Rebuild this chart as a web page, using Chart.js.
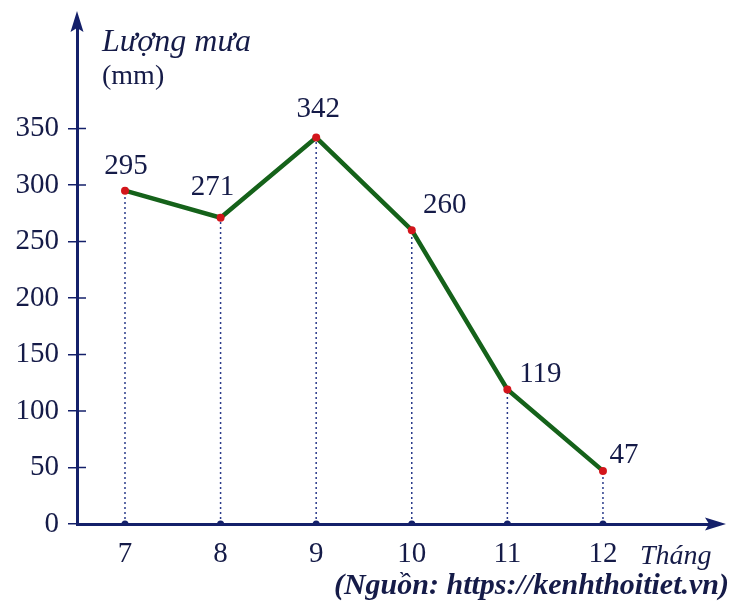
<!DOCTYPE html>
<html>
<head>
<meta charset="utf-8">
<script src="https://cdn.jsdelivr.net/npm/chart.js@4"></script>
<style>
  html, body { margin: 0; padding: 0; background: #ffffff; }
  #wrap { width: 731px; height: 606px; }
</style>
</head>
<body>
<div id="wrap"><canvas id="c" width="731" height="606"></canvas></div>
<script>
// ---- data ----
const months = [7, 8, 9, 10, 11, 12];
const rainfall = [295, 271, 342, 260, 119, 47];
const yTickValues = [0, 50, 100, 150, 200, 250, 300, 350];
const yTitleLines = ['Lượng mưa', '(mm)'];
const xTitle = 'Tháng';
const sourceText = '(Nguồn: https://kenhthoitiet.vn)';

// ---- styles ----
const NAVY = '#14206a';
const TEXT = '#151b48';
const GREEN = '#15621a';
const RED = '#d3151b';
const SERIF = '"Liberation Serif", "Times New Roman", serif';
// label offsets (px) relative to each point
const labelDX = [1, -8, 2, 33, 33, 21];
const labelDY = [-24, -30, -28, -25, -15, -15];

const mainData = months.map((m, i) => ({ x: m, y: rainfall[i] }));
const dropSets = months.map((m, i) => ({
  type: 'line',
  data: [{ x: m, y: 0 }, { x: m, y: rainfall[i] }],
  borderColor: '#2a3a8a',
  borderWidth: 1.5,
  borderDash: [2, 3],
  pointRadius: [3.5, 0],
  pointBackgroundColor: NAVY,
  pointBorderWidth: 0,
  fill: false
}));

const decorPlugin = {
  id: 'decor',
  afterDraw(chart) {
    const ctx = chart.ctx;
    const ca = chart.chartArea;
    const ys = chart.scales.y;
    const ax = ca.left, ay = ca.bottom;
    ctx.save();
    // inner halves of y tick marks
    ctx.strokeStyle = NAVY;
    ctx.lineWidth = 1.5;
    yTickValues.forEach(v => {
      if (v === 0) return;
      const py = ys.getPixelForValue(v);
      ctx.beginPath();
      ctx.moveTo(ax, py);
      ctx.lineTo(ax + 9, py);
      ctx.stroke();
    });
    // axis extensions + arrow heads
    ctx.lineWidth = 3;
    ctx.beginPath();
    ctx.moveTo(ax, ca.top);
    ctx.lineTo(ax, 26);
    ctx.moveTo(ca.right, ay);
    ctx.lineTo(710, ay);
    ctx.stroke();
    ctx.fillStyle = NAVY;
    ctx.beginPath();
    ctx.moveTo(ax, 11);
    ctx.lineTo(ax + 6.5, 32);
    ctx.lineTo(ax, 28);
    ctx.lineTo(ax - 6.5, 32);
    ctx.closePath();
    ctx.fill();
    ctx.beginPath();
    ctx.moveTo(726, ay);
    ctx.lineTo(705, ay - 6.5);
    ctx.lineTo(709, ay);
    ctx.lineTo(705, ay + 6.5);
    ctx.closePath();
    ctx.fill();

    // value labels
    const meta = chart.getDatasetMeta(0);
    ctx.fillStyle = TEXT;
    ctx.font = '29px ' + SERIF;
    ctx.textAlign = 'center';
    ctx.textBaseline = 'middle';
    meta.data.forEach((pt, i) => {
      ctx.fillText(String(rainfall[i]), pt.x + labelDX[i], pt.y + labelDY[i]);
    });

    // axis titles
    ctx.textAlign = 'left';
    ctx.textBaseline = 'alphabetic';
    ctx.font = 'italic 32px ' + SERIF;
    ctx.fillText(yTitleLines[0], ax + 25, 51);
    ctx.font = '28px ' + SERIF;
    ctx.fillText(yTitleLines[1], ax + 25, 84);
    ctx.font = 'italic 28px ' + SERIF;
    ctx.fillText(xTitle, 640, 564);
    ctx.textAlign = 'right';
    ctx.font = 'italic bold 30px ' + SERIF;
    ctx.fillText(sourceText, 729, 594);
    ctx.restore();
  }
};

new Chart(document.getElementById('c'), {
  type: 'line',
  data: {
    datasets: [{
      data: mainData,
      borderColor: GREEN,
      borderWidth: 4.5,
      pointRadius: 4,
      pointBackgroundColor: RED,
      pointBorderWidth: 0,
      tension: 0,
      fill: false
    }].concat(dropSets)
  },
  options: {
    responsive: false,
    animation: false,
    events: [],
    layout: { padding: { top: 22, right: 16, left: 0, bottom: 0 } },
    plugins: { legend: { display: false }, tooltip: { enabled: false } },
    scales: {
      x: {
        type: 'linear',
        min: 6.498,
        max: 13.172,
        afterBuildTicks: s => { s.ticks = months.map(v => ({ value: v })); },
        afterFit: s => { s.height = 82; },
        ticks: {
          color: TEXT,
          font: { family: SERIF, size: 29 },
          padding: 13,
          maxRotation: 0,
          autoSkip: false,
          callback: v => String(v)
        },
        grid: { display: true, drawOnChartArea: false, drawTicks: false },
        border: { display: true, color: NAVY, width: 3 }
      },
      y: {
        type: 'linear',
        min: 0,
        max: 440.35,
        afterBuildTicks: s => { s.ticks = yTickValues.map(v => ({ value: v })); },
        afterFit: s => { s.width = 77; },
        ticks: {
          color: TEXT,
          font: { family: SERIF, size: 29 },
          padding: 9,
          autoSkip: false,
          callback: v => String(v)
        },
        grid: { display: true, drawOnChartArea: false, drawTicks: true, tickLength: 9, color: NAVY, lineWidth: 1.5 },
        border: { display: true, color: NAVY, width: 3 }
      }
    }
  },
  plugins: [decorPlugin]
});
</script>
</body>
</html>
